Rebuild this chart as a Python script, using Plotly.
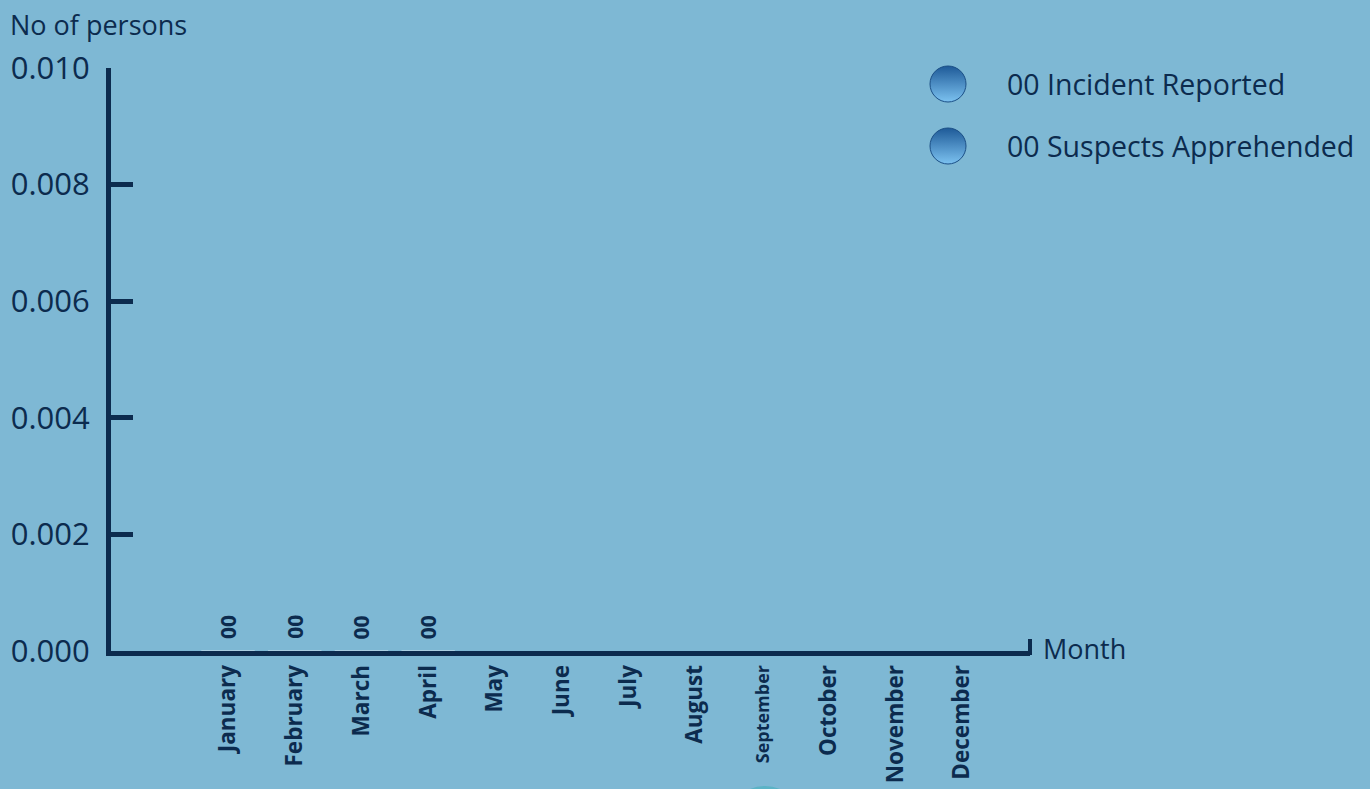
import plotly.graph_objects as go

months = ["January", "February", "March", "April", "May", "June", "July",
          "August", "September", "October", "November", "December"]
incident_reported = [0, 0, 0, 0, None, None, None, None, None, None, None, None]
suspects_apprehended = [0, 0, 0, 0, None, None, None, None, None, None, None, None]
y_ticks = [0.000, 0.002, 0.004, 0.006, 0.008, 0.010]
legend_names = ["00 Incident Reported", "00 Suspects Apprehended"]

BG = "#7EB8D4"
NAVY = "#0C2B4E"
FONT = "Open Sans"

L, R, T, B = 111, 340, 68, 138
W, H = 1370, 789
PX0, PX1 = L, W - R          # plot area in pixels
PY0, PY1 = H - B, T


def px(x):
    return (x - PX0) / (PX1 - PX0)


def py(y):
    return (PY0 - y) / (PY0 - PY1)


fig = go.Figure()
fig.add_trace(go.Bar(x=months, y=incident_reported, name=legend_names[0],
                     marker_color="#3A7FC0", showlegend=False))
fig.add_trace(go.Bar(x=months, y=suspects_apprehended, name=legend_names[1],
                     marker_color="#2A6AA8", showlegend=False))

# value labels ("00") above the axis
annotations = []
for m, v in zip(months, incident_reported):
    if v is not None:
        annotations.append(dict(x=m, y=v, xref="x", yref="y", text="%02d" % v,
                                textangle=-90, showarrow=False, yanchor="bottom",
                                xanchor="center", yshift=10,
                                font=dict(family=FONT, size=21, color=NAVY, weight=700)))

# custom legend with glossy markers (overlay pixel-mapped axes)
leg_y = [84, 146]
fig.add_trace(go.Scatter(x=[948, 948], y=leg_y, xaxis="x2", yaxis="y2", mode="markers",
                         cliponaxis=False, showlegend=False, hoverinfo="skip",
                         marker=dict(size=36, color="#1E5A98",
                                     gradient=dict(type="vertical", color="#7CC2F0"),
                                     line=dict(width=1, color="#1B4F86"))))
for name, yy in zip(legend_names, leg_y):
    annotations.append(dict(x=1005, y=yy, xref="x2", yref="y2", text=name, showarrow=False,
                            xanchor="left", yanchor="middle",
                            font=dict(family=FONT, size=28.5, color=NAVY)))

annotations.append(dict(x=px(8), y=py(24), xref="paper", yref="paper", text="No of persons",
                        showarrow=False, xanchor="left", yanchor="middle",
                        font=dict(family=FONT, size=27, color=NAVY)))
annotations.append(dict(x=px(1041), y=py(648), xref="paper", yref="paper", text="Month",
                        showarrow=False, xanchor="left", yanchor="middle",
                        font=dict(family=FONT, size=27, color=NAVY)))

tick_text = [("<span style='font-size:18px'>%s</span>" % m) if m == "September" else m
             for m in months]

fig.update_layout(
    width=W, height=H,
    margin=dict(l=L, r=R, t=T, b=B, autoexpand=False),
    paper_bgcolor=BG, plot_bgcolor=BG,
    barmode="group",
    annotations=annotations,
    shapes=[
        dict(type="line", xref="paper", yref="paper", x0=px(1030), x1=px(1030),
             y0=py(655), y1=py(639), line=dict(color=NAVY, width=4)),
        dict(type="circle", xref="paper", yref="paper", x0=px(726), x1=px(804),
             y0=py(786), y1=py(864), fillcolor="#5BB3C6", line=dict(width=0), layer="above"),
    ],
    xaxis=dict(type="category", range=[-1.754, 12.02], showline=True, linecolor=NAVY,
               linewidth=5, showgrid=False, zeroline=False, ticks="", automargin=False,
               tickangle=-90, tickmode="array", tickvals=months, ticktext=tick_text,
               ticklabelstandoff=0,
               tickfont=dict(family=FONT, size=22.5, color=NAVY, weight=700)),
    yaxis=dict(range=[0, 0.010], showline=True, linecolor=NAVY, linewidth=5,
               showgrid=False, zeroline=False, ticks="inside", ticklen=22, automargin=False,
               tickwidth=5, tickcolor=NAVY, tickvals=y_ticks, tickformat=".3f",
               ticklabelstandoff=10,
               tickfont=dict(family=FONT, size=31, color=NAVY)),
    xaxis2=dict(overlaying="x", range=[PX0, PX1], visible=False, fixedrange=True),
    yaxis2=dict(overlaying="y", range=[PY0, PY1], visible=False, fixedrange=True),
)

fig.write_html("out.html", config={"displayModeBar": False},
               post_script="document.body.style.margin='0';")
